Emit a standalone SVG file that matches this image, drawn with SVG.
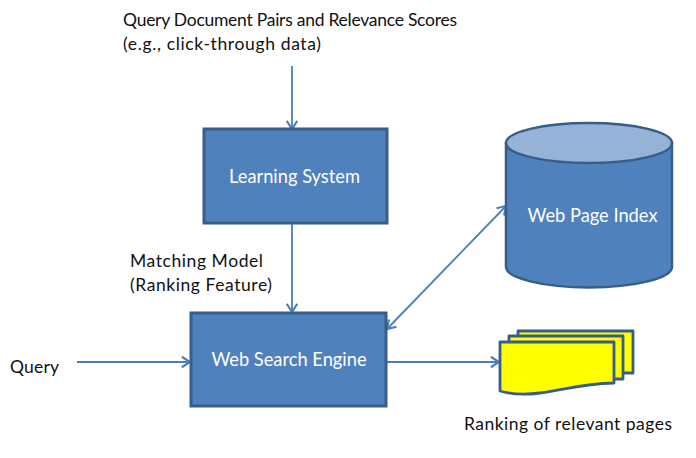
<svg xmlns="http://www.w3.org/2000/svg" width="696" height="458" viewBox="0 0 696 458">
<defs>
<marker id="a" markerUnits="userSpaceOnUse" markerWidth="14" markerHeight="14" refX="10" refY="6" orient="auto-start-reverse" viewBox="0 0 12 12"><path d="M3 1.5L10 6L3 10.5" fill="none" stroke="#4a7ebb" stroke-width="1.8"/></marker>
</defs>
<style>
text{font-family:Lato,"Liberation Sans",sans-serif;font-size:17.5px;fill:#111}
.w{fill:#fff;text-anchor:middle;font-size:18.3px}
.box{fill:#4f81bd;stroke:#385d8a;stroke-width:3}
.doc{fill:#ff0;stroke:#385d8a;stroke-width:2.8;stroke-linejoin:round}
.c{fill:none;stroke:#4a7ebb;stroke-width:1.8;marker-end:url(#a)}
</style>
<rect width="696" height="458" fill="#fff"/>
<g id="connectors">
<path class="c" d="M292 66V129"/>
<path class="c" d="M292 223V312"/>
<path class="c" d="M77 362H190"/>
<path class="c" d="M387 362H499"/>
<path class="c" d="M387 329L506 206" style="marker-start:url(#a)"/>
</g>
<g id="top-label"><text x="123" y="26" textLength="334">Query Document Pairs and Relevance Scores</text><text x="123" y="50" textLength="198">(e.g., click-through data)</text></g>
<g id="learning-system"><rect class="box" x="204" y="129" width="183" height="94"/><text class="w" x="294.5" y="183">Learning System</text></g>
<g id="matching-label"><text x="130" y="267" textLength="133">Matching Model</text><text x="130" y="291" textLength="142">(Ranking Feature)</text></g>
<g id="web-search-engine"><rect class="box" x="191" y="313" width="195" height="93"/><text class="w" x="289" y="366">Web Search Engine</text></g>
<g id="query"><text x="10" y="373" textLength="49">Query</text></g>
<g id="web-page-index"><path class="box" style="stroke-width:2.5" d="M506 143V267C506 278 543 287.500 589 287.500S672 278 672 267V143Z"/><ellipse cx="589" cy="143" rx="83" ry="20" fill="#95b3d7" stroke="#385d8a" stroke-width="2.500"/><text class="w" x="592.500" y="222">Web Page Index</text></g>
<g id="pages"><path class="doc" d="M518 331H633V373H518Z"/><path class="doc" d="M509 336H623V379H509Z"/><path class="doc" d="M500 342H614V383C580 384 565 390 540 393C525 395 510 394 500 391Z"/></g>
<g id="ranking-label"><text x="464" y="430" textLength="208">Ranking of relevant pages</text></g>
</svg>
